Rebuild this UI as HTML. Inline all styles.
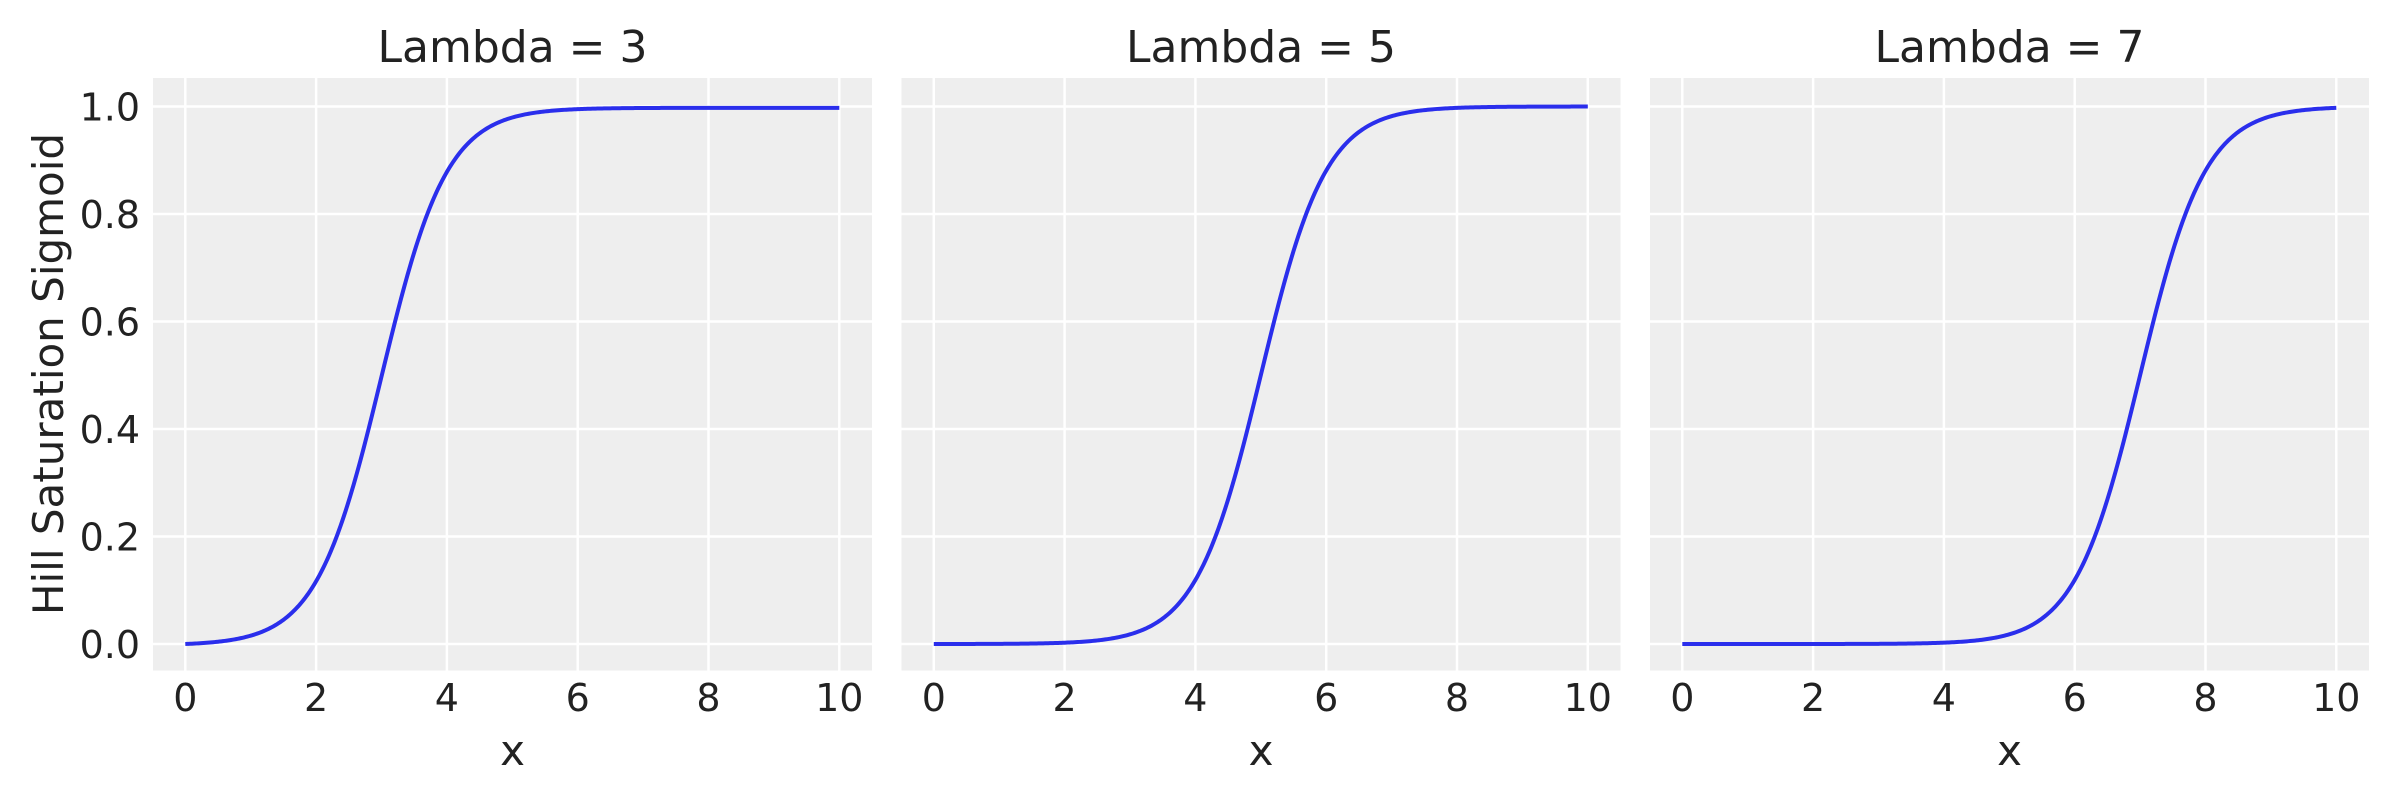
<!DOCTYPE html>
<html><head><meta charset="utf-8"><style>
html,body{margin:0;padding:0;background:#fff;}
svg{display:block;font-family:"DejaVu Sans","Liberation Sans",sans-serif;fill:#222;}
</style></head><body>
<svg id="s" width="2400" height="800" viewBox="0 0 2400 800" xmlns="http://www.w3.org/2000/svg"></svg>
<script>
(function(){
var sv=document.getElementById('s');
var h='';
var lams=[3,5,7];
var yTop=78,yBot=670.5,yz=644,yu=537.5,ux=65.4;
for(var p=0;p<3;p++){
  var L=153+p*748.5,R=L+719,x0=185.3+p*748.5;
  h+='<rect x="'+L+'" y="'+yTop+'" width="'+(R-L)+'" height="'+(yBot-yTop)+'" fill="#eeeeee"/>';
  for(var i=0;i<=10;i+=2){var x=x0+i*ux;
    h+='<line x1="'+x+'" y1="'+yTop+'" x2="'+x+'" y2="'+yBot+'" stroke="#fff" stroke-width="2.5"/>';
    h+='<text x="'+x+'" y="711" font-size="38" text-anchor="middle">'+i+'</text>';}
  for(var j=0;j<=5;j++){var y=yz-j*0.2*yu;
    h+='<line x1="'+L+'" y1="'+y+'" x2="'+R+'" y2="'+y+'" stroke="#fff" stroke-width="2.5"/>';
    if(p==0)h+='<text x="140" y="'+(y+14)+'" font-size="38" text-anchor="end">'+(j*0.2).toFixed(1)+'</text>';}
  var lam=lams[p],b=2;
  var d='';
  for(var k=0;k<=400;k++){var xx=k*10/400;
    var fv=1/(1+Math.exp(-b*(xx-lam)))-1/(1+Math.exp(b*lam));
    d+=(k?'L':'M')+(x0+xx*ux).toFixed(2)+','+(yz-fv*yu).toFixed(2);}
  h+='<path d="'+d+'" fill="none" stroke="#2a2eec" stroke-width="4"/>';
  h+='<text x="'+((L+R)/2)+'" y="62" font-size="44" text-anchor="middle">Lambda = '+lam+'</text>';
  h+='<text x="'+((L+R)/2)+'" y="765" font-size="42" text-anchor="middle">x</text>';
}
h+='<text transform="translate(63,374) rotate(-90)" font-size="42" text-anchor="middle">Hill Saturation Sigmoid</text>';
sv.innerHTML=h;
})();
</script>
</body></html>
